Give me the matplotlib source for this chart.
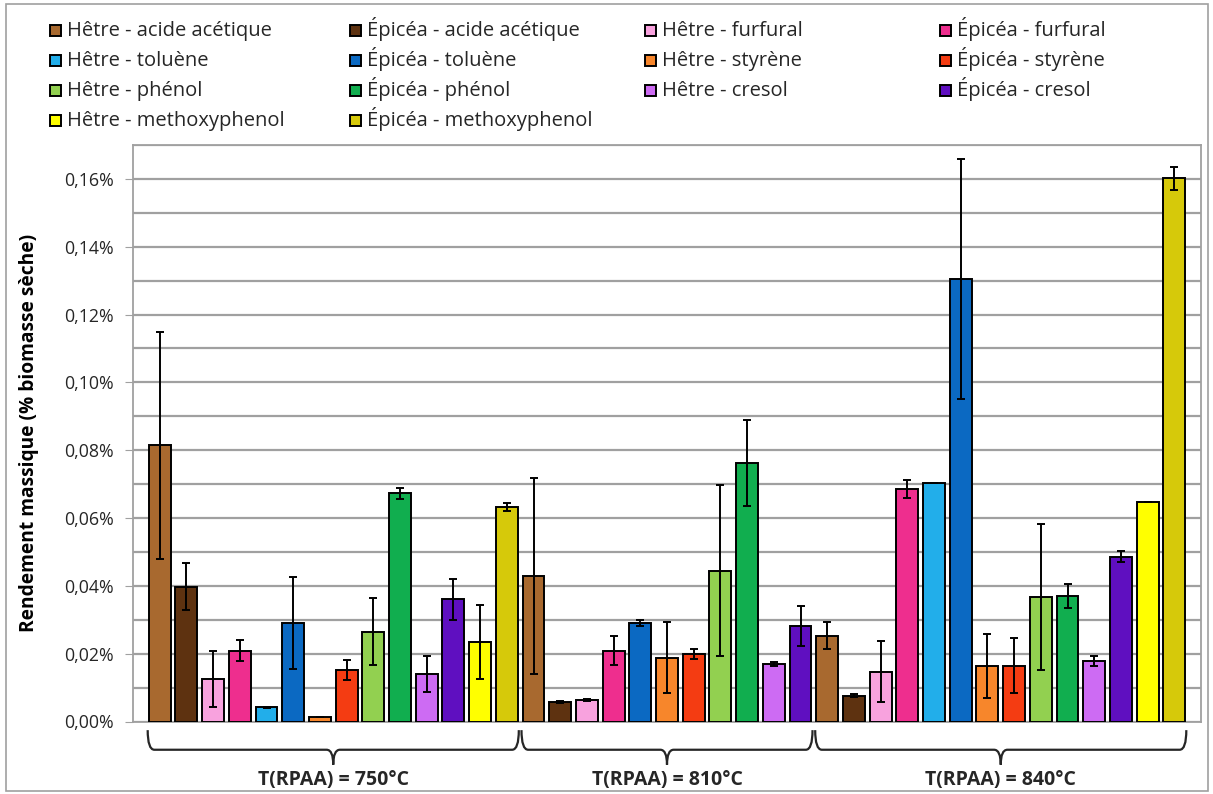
import matplotlib
matplotlib.use('Agg')
import numpy as np
import matplotlib.pyplot as plt
from matplotlib.patches import Rectangle, PathPatch
from matplotlib.path import Path
import matplotlib.transforms as mtransforms
from matplotlib.ticker import MultipleLocator, FuncFormatter

plt.rcParams['font.family'] = ['Open Sans', 'DejaVu Sans']

W, H = 1213, 794

# Series (legend order: Hêtre / Épicéa pairs)
series = ['Hêtre - acide acétique', 'Épicéa - acide acétique',
          'Hêtre - furfural', 'Épicéa - furfural',
          'Hêtre - toluène', 'Épicéa - toluène',
          'Hêtre - styrène', 'Épicéa - styrène',
          'Hêtre - phénol', 'Épicéa - phénol',
          'Hêtre - cresol', 'Épicéa - cresol',
          'Hêtre - methoxyphenol', 'Épicéa - methoxyphenol']
colors = ['#A8692F', '#5E3210', '#F8A2DE', '#EE2E8E', '#22AEEA', '#0B69C2',
          '#F7862B', '#F43C12', '#92D050', '#11AE4F', '#CD6BF3', '#5F0FC0',
          '#FFFF00', '#D6C90A']

groups = ['T(RPAA) = 750°C', 'T(RPAA) = 810°C', 'T(RPAA) = 840°C']

# values in % of dry biomass, None = not measured
vals_750 = [0.0814, 0.0398, 0.0125, 0.0209, 0.0042, 0.0290, 0.0012, 0.0152,
            0.0265, 0.0673, 0.0139, 0.0360, 0.0234, 0.0632]
err_750 = [0.0335, 0.0069, 0.0082, 0.0031, 0.0002, 0.0135, 0.0, 0.0030,
           0.0098, 0.0017, 0.0053, 0.0061, 0.0110, 0.0012]
vals_810 = [0.0429, 0.0058, 0.0063, 0.0209, None, 0.0290, 0.0188, 0.0199,
            0.0445, 0.0762, 0.0170, 0.0282, None, None]
err_810 = [0.0288, 0.0003, 0.0003, 0.0043, None, 0.0008, 0.0105, 0.0016,
           0.0252, 0.0128, 0.0006, 0.0060, None, None]
vals_840 = [0.0253, 0.0076, 0.0147, 0.0685, 0.0703, 0.1304, 0.0164, 0.0164,
            0.0366, 0.0370, 0.0178, 0.0486, 0.0647, 0.1602]
err_840 = [0.0040, 0.0005, 0.0090, 0.0027, 0.0001, 0.0354, 0.0095, 0.0081,
           0.0215, 0.0035, 0.0014, 0.0017, 0.0001, 0.0034]

all_vals = [vals_750, vals_810, vals_840]
all_errs = [err_750, err_810, err_840]

# flatten into consecutive bars, remember group spans
xs, hs, es, cs, spans = [], [], [], [], []
pos = 0
for vals, errs in zip(all_vals, all_errs):
    start = pos
    for i, (v, e) in enumerate(zip(vals, errs)):
        if v is None:
            continue
        xs.append(pos)
        hs.append(v)
        es.append(e)
        cs.append(colors[i])
        pos += 1
    spans.append((start, pos - 1))

fig = plt.figure(figsize=(W/100, H/100), dpi=100)
ax = fig.add_axes([133/W, 1 - 721.5/H, (1201-133)/W, (721.5-145)/H])

ax.bar(xs, hs, width=0.82, color=cs, edgecolor='black', linewidth=1.4, zorder=3)
ax.errorbar(xs, hs, yerr=es, fmt='none', ecolor='black', elinewidth=1.4,
            capsize=3, capthick=1.4, zorder=4)

ax.set_xlim(-1, pos)
ax.set_ylim(0, 0.17)
ax.yaxis.set_major_locator(MultipleLocator(0.02))
ax.yaxis.set_minor_locator(MultipleLocator(0.01))
ax.yaxis.set_major_formatter(FuncFormatter(lambda v, p: '{:.2f}%'.format(v).replace('.', ',')))
ax.grid(axis='y', which='both', color='#A0A0A0', linewidth=1.6)
ax.set_axisbelow(True)
ax.set_xticks([])
ax.tick_params(axis='y', which='major', length=6, color='#A0A0A0', labelsize=12.8,
               labelcolor='#262626', pad=8)
ax.tick_params(axis='y', which='minor', length=0)
for s in ax.spines.values():
    s.set_color('#A0A0A0')
    s.set_linewidth(1.3)

ax.set_ylabel('Rendement massique (% biomasse sèche)', fontsize=13.8, fontweight='bold')
ax.yaxis.set_label_coords(-0.088, 0.5)

# braces under each temperature group
trans = mtransforms.blended_transform_factory(ax.transData, ax.transAxes)
y_top, y_mid, y_tip = -0.015, -0.049, -0.075
for (a, b), g in zip(spans, groups):
    x0, x1 = a - 0.45, b + 0.45
    xc = (x0 + x1) / 2
    d = 0.25
    verts = [(x0, y_top), (x0, y_mid), (x0 + d, y_mid),
             (xc - d, y_mid), (xc, y_mid), (xc, y_tip),
             (xc, y_mid), (xc + d, y_mid),
             (x1 - d, y_mid), (x1, y_mid), (x1, y_top)]
    codes = [Path.MOVETO, Path.CURVE3, Path.CURVE3,
             Path.LINETO, Path.CURVE3, Path.CURVE3,
             Path.CURVE3, Path.CURVE3,
             Path.LINETO, Path.CURVE3, Path.CURVE3]
    ax.add_patch(PathPatch(Path(verts, codes), transform=trans, fill=False,
                           edgecolor='#262626', linewidth=1.6, clip_on=False))
    ax.text(xc, -0.102, g, transform=trans, ha='center', va='center',
            fontsize=14, fontweight='bold', color='#262626')

# legend: 4 columns x 4 rows, laid out like the original
col_x = [50, 350, 645, 940]
row_y = [30, 60, 90, 120]
legend_order = [[0, 1, 2, 3], [4, 5, 6, 7], [8, 9, 10, 11], [12, 13]]
for r, row in enumerate(legend_order):
    for c, i in enumerate(row):
        x, y = col_x[c], row_y[r]
        fig.add_artist(Rectangle((x/W, 1 - (y + 6)/H), 11/W, 11/H, transform=fig.transFigure,
                                 facecolor=colors[i], edgecolor='black', linewidth=1.4))
        fig.text((x + 17)/W, 1 - (y + 6)/H, series[i], fontsize=14.5, color='#262626',
                 ha='left', va='baseline')

# chart area border
fig.add_artist(Rectangle((6/W, 3/H), 1202/W, 787/H, transform=fig.transFigure,
                         fill=False, edgecolor='#A0A0A0', linewidth=1.2))

fig.savefig('out.png', dpi=100)
